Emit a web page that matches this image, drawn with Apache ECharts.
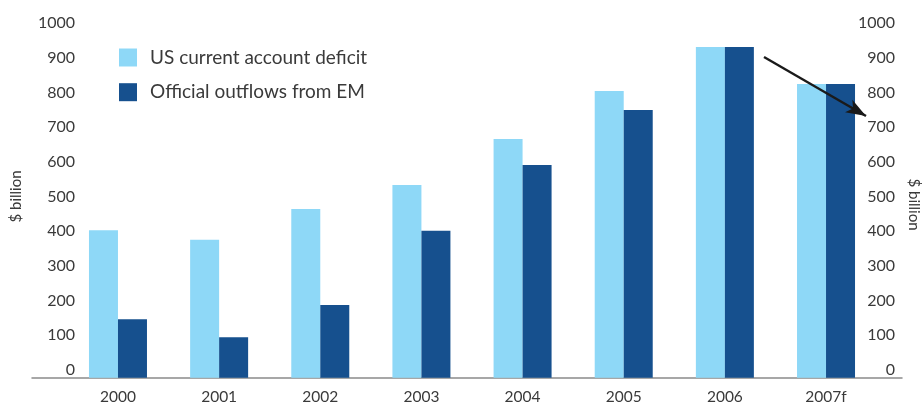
<!DOCTYPE html>
<html>
<head>
<meta charset="utf-8">
<script src="https://cdn.jsdelivr.net/npm/echarts@6/dist/echarts.min.js"></script>
<style>
html,body{margin:0;padding:0;background:#fff;}
#chart{width:922px;height:406px;}
</style>
</head>
<body>
<div id="chart"></div>
<script>
const categories = ['2000', '2001', '2002', '2003', '2004', '2005', '2006', '2007f'];
const usDeficit = [426, 398, 487, 556, 689, 828, 955, 848];
const emOutflows = [169, 117, 210, 424, 614, 773, 955, 848];
const seriesNames = ['US current account deficit', 'Official outflows from EM'];
const axisName = '$ billion';

const FONT = 'Lato';
const TEXT = '#3a3a3a';
const LIGHT = '#8ED8F7';
const DARK = '#16508E';

const chart = echarts.init(document.getElementById('chart'), null, {renderer: 'canvas'});

const yLabel = (side) => ({
  show: true,
  fontFamily: FONT,
  fontSize: 16,
  color: TEXT,
  align: 'right',
  verticalAlign: 'bottom',
  margin: side === 'left' ? -7.6 : 18.4,
  formatter: (v) => String(v)
});

chart.setOption({
  animation: false,
  textStyle: {fontFamily: FONT},
  grid: [
    {left: 67.4, right: 45.4, top: 31.3, bottom: 28.3, containLabel: false, outerBoundsMode: 'none'},
    {left: 32, right: 20, top: 31.3, bottom: 28.3, containLabel: false, outerBoundsMode: 'none'}
  ],
  legend: {
    orient: 'vertical',
    left: 119,
    top: 48,
    padding: 0,
    itemWidth: 18,
    itemHeight: 18,
    itemGap: 15.7,
    icon: 'rect',
    data: seriesNames,
    textStyle: {fontFamily: FONT, fontSize: 19, lineHeight: 18, color: TEXT, padding: [0, 0, 0, 8]}
  },
  xAxis: [
    {
      type: 'category',
      gridIndex: 0,
      data: categories,
      axisLine: {show: false},
      axisTick: {show: false},
      axisLabel: {fontFamily: FONT, fontSize: 15.5, color: TEXT, margin: 11}
    },
    {
      type: 'value',
      gridIndex: 1,
      min: 0, max: 1,
      axisLine: {show: true, lineStyle: {color: '#8a8a8a', width: 1.5}},
      axisTick: {show: false},
      axisLabel: {show: false},
      splitLine: {show: false}
    }
  ],
  yAxis: [
    {
      type: 'value',
      gridIndex: 0,
      position: 'left',
      min: 0, max: 1000, interval: 100,
      axisLine: {show: false},
      axisTick: {show: false},
      splitLine: {show: false},
      axisLabel: yLabel('left'),
      name: axisName,
      nameLocation: 'middle',
      nameGap: 44,
      nameTextStyle: {fontFamily: FONT, fontSize: 15, color: TEXT, padding: [0, 0, 0, 16]}
    },
    {
      type: 'value',
      gridIndex: 0,
      position: 'right',
      min: 0, max: 1000, interval: 100,
      axisLine: {show: false},
      axisTick: {show: false},
      splitLine: {show: false},
      axisLabel: yLabel('right'),
      name: axisName,
      nameLocation: 'middle',
      nameRotate: -90,
      nameGap: 25.5,
      nameTextStyle: {fontFamily: FONT, fontSize: 15, color: TEXT}
    },
    {
      type: 'value',
      gridIndex: 1,
      show: false,
      min: 0, max: 1
    }
  ],
  series: [
    {
      name: seriesNames[0],
      type: 'bar',
      xAxisIndex: 0,
      yAxisIndex: 0,
      data: usDeficit,
      barWidth: 29,
      barGap: '0%',
      itemStyle: {color: LIGHT}
    },
    {
      name: seriesNames[1],
      type: 'bar',
      xAxisIndex: 0,
      yAxisIndex: 0,
      data: emOutflows,
      barWidth: 29,
      barGap: '0%',
      itemStyle: {color: DARK},
      markLine: {
        silent: true,
        symbol: ['none', 'arrow'],
        symbolSize: [11, 20],
        label: {show: false},
        lineStyle: {color: '#1a1a1a', width: 2.4, type: 'solid'},
        data: [[{x: 764, y: 57}, {x: 866, y: 116}]]
      }
    }
  ]
});
</script>
</body>
</html>
